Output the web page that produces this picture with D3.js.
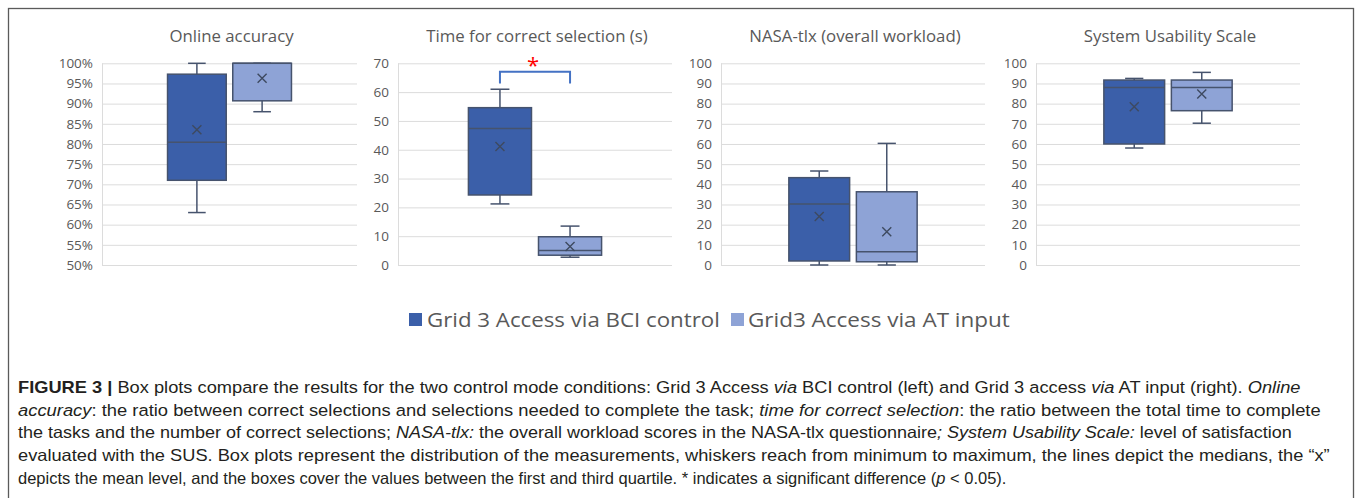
<!DOCTYPE html>
<html>
<head>
<meta charset="utf-8">
<script src="https://cdn.jsdelivr.net/npm/d3@7"></script>
<style>
  html, body { margin: 0; padding: 0; background: #fff; }
  svg { display: block; }
</style>
</head>
<body>
<svg id="chart" width="1357" height="498"></svg>
<script>
// ---------------- DATA ----------------
const seriesNames = ["Grid 3 Access via BCI control", "Grid3 Access via AT input"];
const statKeys = ["min", "q1", "median", "q3", "max", "mean"];

const panelTitles = ["Online accuracy", "Time for correct selection (s)", "NASA-tlx (overall workload)", "System Usability Scale"];

// [min, q1, median, q3, max, mean]
const accuracyBCI = [63, 71.0, 80.4, 97.3, 100, 83.5];
const accuracyAT  = [88, 90.7, 100, 100, 100, 96.3];
const timeBCI     = [21.2, 24.3, 47.4, 54.6, 61, 41.1];
const timeAT      = [2.7, 3.4, 5.0, 9.8, 13.5, 6.4];
const nasaBCI     = [0, 2, 30.2, 43.3, 46.6, 24.0];
const nasaAT      = [0, 1.6, 6.6, 36.3, 60.3, 16.5];
const susBCI      = [58, 60, 88, 91.7, 92.5, 78.5];
const susAT       = [70.3, 76.5, 88, 91.7, 95.5, 84.8];

const accuracyTicks = [50, 55, 60, 65, 70, 75, 80, 85, 90, 95, 100];
const timeTicks = [0, 10, 20, 30, 40, 50, 60, 70];
const nasaTicks = [0, 10, 20, 30, 40, 50, 60, 70, 80, 90, 100];
const susTicks  = [0, 10, 20, 30, 40, 50, 60, 70, 80, 90, 100];

const significanceMark = "*";

const captionLines = [
  [["b", "FIGURE 3 |"], ["n", " Box plots compare the results for the two control mode conditions: Grid 3 Access "], ["i", "via"], ["n", " BCI control (left) and Grid 3 access "], ["i", "via"], ["n", " AT input (right). "], ["i", "Online"]],
  [["i", "accuracy"], ["n", ": the ratio between correct selections and selections needed to complete the task; "], ["i", "time for correct selection"], ["n", ": the ratio between the total time to complete"]],
  [["n", "the tasks and the number of correct selections; "], ["i", "NASA-tlx:"], ["n", " the overall workload scores in the NASA-tlx questionnaire"], ["i", "; System Usability Scale:"], ["n", " level of satisfaction"]],
  [["n", "evaluated with the SUS. Box plots represent the distribution of the measurements, whiskers reach from minimum to maximum, the lines depict the medians, the \u201cx\u201d"]],
  [["n", "depicts the mean level, and the boxes cover the values between the first and third quartile. * indicates a significant difference ("], ["i", "p"], ["n", " < 0.05)."]]
];

// ---------------- LAYOUT ----------------
const svg = d3.select("#chart");
const fillColors = ["#3b5fa9", "#8ea3d6"];
const strokeColor = "#46536d";
const textGrey = "#595959";
const yTop = 63.3, yBottom = 265;

const panels = [
  { x0: 102, x1: 357, domain: [50, 100], ticks: accuracyTicks, fmt: d => d + "%", data: [accuracyBCI, accuracyAT] },
  { x0: 398, x1: 672, domain: [0, 70], ticks: timeTicks, fmt: d => d, data: [timeBCI, timeAT] },
  { x0: 721, x1: 985, domain: [0, 100], ticks: nasaTicks, fmt: d => d, data: [nasaBCI, nasaAT] },
  { x0: 1036, x1: 1300, domain: [0, 100], ticks: susTicks, fmt: d => d, data: [susBCI, susAT] }
];

// outer frame
svg.append("rect")
  .attr("x", 8.5).attr("y", 8.5).attr("width", 1345).attr("height", 600)
  .attr("fill", "none").attr("stroke", "#5a5a5a").attr("stroke-width", 1.3);

panels.forEach((p, pi) => {
  const w = p.x1 - p.x0;
  const y = d3.scaleLinear().domain(p.domain).range([yBottom, yTop]);
  const x = d3.scaleBand().domain(seriesNames)
    .range([w / 2 - 0.243 * w, w / 2 + 0.243 * w]).paddingInner(0.1);
  const g = svg.append("g").attr("transform", `translate(${p.x0},0)`);

  // grid + tick labels
  const axis = d3.axisLeft(y).tickValues(p.ticks).tickSize(-w).tickPadding(9).tickFormat(p.fmt);
  g.append("g").call(axis)
    .call(a => a.select(".domain").remove())
    .call(a => a.selectAll(".tick line").attr("stroke", "#dcdcdc").attr("stroke-width", 1))
    .call(a => a.selectAll(".tick text").attr("fill", textGrey)
      .attr("font-family", "'Open Sans', sans-serif").attr("font-size", 13.5));
  g.append("line").attr("x1", 0.5).attr("x2", 0.5)
    .attr("y1", y(p.domain[1])).attr("y2", y(p.domain[0]))
    .attr("stroke", "#dcdcdc");

  // title
  g.append("text").attr("x", w / 2 + 2).attr("y", 42).attr("text-anchor", "middle")
    .attr("fill", textGrey).attr("font-family", "'Open Sans', sans-serif").attr("font-size", 16.8)
    .text(panelTitles[pi]);

  // boxes
  const bw = x.bandwidth();
  p.data.forEach((vals, si) => {
    const s = {};
    statKeys.forEach((k, i) => s[k] = vals[i]);
    const cx = x(seriesNames[si]) + bw / 2;
    const bg = g.append("g");
    const capW = bw * 0.3;
    // whiskers
    bg.append("line").attr("x1", cx).attr("x2", cx).attr("y1", y(s.max)).attr("y2", y(s.min))
      .attr("stroke", strokeColor).attr("stroke-width", 1.5);
    [s.max, s.min].forEach(v => {
      bg.append("line").attr("x1", cx - capW / 2).attr("x2", cx + capW / 2)
        .attr("y1", y(v)).attr("y2", y(v)).attr("stroke", strokeColor).attr("stroke-width", 1.5);
    });
    // box
    bg.append("rect").attr("x", x(seriesNames[si])).attr("width", bw)
      .attr("y", y(s.q3)).attr("height", Math.max(0, y(s.q1) - y(s.q3)))
      .attr("fill", fillColors[si]).attr("stroke", strokeColor).attr("stroke-width", 1.5);
    // median
    bg.append("line").attr("x1", x(seriesNames[si])).attr("x2", x(seriesNames[si]) + bw)
      .attr("y1", y(s.median)).attr("y2", y(s.median))
      .attr("stroke", strokeColor).attr("stroke-width", 1.5);
    // mean cross
    const r = 4.5, my = y(s.mean);
    bg.append("path")
      .attr("d", `M${cx - r},${my - r}L${cx + r},${my + r}M${cx - r},${my + r}L${cx + r},${my - r}`)
      .attr("stroke", "#3e4a60").attr("stroke-width", 1.4).attr("fill", "none");
  });

  // significance bracket on time panel
  if (pi === 1) {
    const xa = x(seriesNames[0]) + bw / 2, xb = x(seriesNames[1]) + bw / 2;
    const yt = y(67.1), yl = y(63);
    g.append("path").attr("d", `M${xa},${yl}L${xa},${yt}L${xb},${yt}L${xb},${yl}`)
      .attr("fill", "none").attr("stroke", "#4472c4").attr("stroke-width", 2);
    g.append("text").attr("x", (xa + xb) / 2 - 2).attr("y", y(67.1) + 1)
      .attr("text-anchor", "middle").attr("fill", "#ff0000")
      .attr("font-family", "'Open Sans', sans-serif").attr("font-size", 22)
      .text(significanceMark);
  }
});

// legend
const legendItems = [{ x: 409, tx: 427, w: 293 }, { x: 731, tx: 748, w: 262 }];
legendItems.forEach((L, i) => {
  svg.append("rect").attr("x", L.x).attr("y", 313).attr("width", 13).attr("height", 13)
    .attr("fill", fillColors[i]);
  const t = svg.append("text").attr("x", L.tx).attr("y", 327)
    .attr("fill", textGrey).attr("font-family", "'Open Sans', sans-serif").attr("font-size", 20.5)
    .text(seriesNames[i]);
  fitWidth(t, L.w, L.tx);
});

// caption
const capEnds = [1300, 1320, 1292, 1328, 1006];
captionLines.forEach((line, li) => {
  const t = svg.append("text").attr("x", 18).attr("y", 393 + li * 22.7)
    .attr("fill", "#231f20").attr("font-family", "'Liberation Sans', Arial, sans-serif")
    .attr("font-size", 16.3);
  line.forEach(([style, str]) => {
    t.append("tspan")
      .attr("font-weight", style === "b" ? "bold" : "normal")
      .attr("font-style", style === "i" ? "italic" : "normal")
      .text(str);
  });
  fitWidth(t, capEnds[li] - 18, 18);
});

function fitWidth(sel, target, x0) {
  const w = sel.node().getComputedTextLength();
  if (w > 0) {
    const k = target / w;
    sel.attr("transform", `translate(${x0},0) scale(${k},1) translate(${-x0},0)`);
  }
}
</script>
</body>
</html>
